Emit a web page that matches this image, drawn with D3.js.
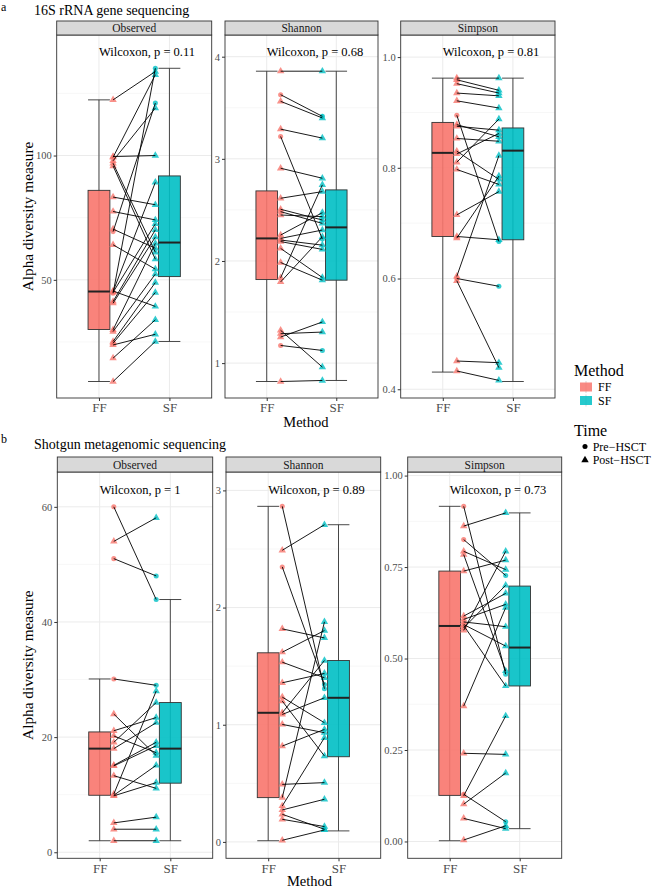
<!DOCTYPE html>
<html><head><meta charset="utf-8">
<script src="https://cdn.jsdelivr.net/npm/d3@7"></script>
<style>
body{margin:0;background:#fff}
svg{display:block}
text{font-family:"Liberation Serif","Times New Roman",serif}
</style>
</head><body>
<svg id="c" width="660" height="888"></svg>
<script>
// ---------------- data ----------------
const methods = ["FF", "SF"];
const metrics = ["Observed", "Shannon", "Simpson"];
const timeLevels = ["Pre\u2212HSCT", "Post\u2212HSCT"];
const rowTitles = ["16S rRNA gene sequencing", "Shotgun metagenomic sequencing"];
const rowTags = ["a", "b"];
const xTitle = "Method";
const yTitle = "Alpha diversity measure";

// 16S rRNA : paired samples (FF value, SF value); Pre = indices of Pre-HSCT samples
const obs16FF = [122.4, 99.6, 99.3, 97.9, 96.9, 95.8, 83.3, 77.5, 70.4, 69.4, 64.1, 45.5, 45.3, 45.0, 44.6, 41.3, 40.6, 29.9, 29.2, 25.2, 24.5, 23.8, 18.5, 9.1];
const obs16SF = [133.8, 100.0, 132.5, 119.1, 61.1, 58.3, 80.2, 74.1, 62.7, 121.1, 54.3, 39.3, 89.2, 72.5, 135.1, 70.1, 67.2, 64.7, 52.3, 48.9, 44.9, 28.1, 33.9, 25.2];
const obs16Pre = [9, 14];
const obs16BoxFF = [9.1, 30.0, 45.3, 86.0, 122.4];
const obs16BoxSF = [25.2, 51.3, 65.0, 91.8, 135.1];

const sha16FF = [3.858, 3.628, 3.563, 3.291, 3.219, 2.908, 2.614, 2.506, 2.483, 2.450, 2.254, 2.221, 2.205, 2.190, 2.123, 1.985, 1.835, 1.795, 1.321, 1.288, 1.255, 1.173, 0.820];
const sha16SF = [3.858, 3.416, 3.400, 3.203, 2.214, 2.810, 2.679, 2.401, 2.368, 2.434, 2.473, 2.303, 2.155, 2.113, 1.838, 1.812, 2.745, 2.237, 0.961, 1.304, 1.403, 1.124, 0.830];
const sha16Pre = [1, 4, 21];
const sha16BoxFF = [0.820, 1.818, 2.221, 2.686, 3.858];
const sha16BoxSF = [0.830, 1.812, 2.329, 2.696, 3.858];

const sim16FF = [0.962, 0.959, 0.952, 0.935, 0.921, 0.895, 0.878, 0.875, 0.853, 0.830, 0.825, 0.810, 0.797, 0.715, 0.676, 0.673, 0.604, 0.600, 0.596, 0.451, 0.433];
const sim16SF = [0.962, 0.940, 0.935, 0.930, 0.908, 0.667, 0.856, 0.868, 0.848, 0.779, 0.862, 0.888, 0.770, 0.757, 0.670, 0.785, 0.822, 0.586, 0.439, 0.448, 0.416];
const sim16Pre = [5, 17];
const sim16BoxFF = [0.431, 0.676, 0.827, 0.882, 0.962];
const sim16BoxSF = [0.414, 0.670, 0.831, 0.872, 0.962];

// Shotgun metagenomic
const obsSgFF = [60.0, 54.0, 51.0, 30.1, 24.0, 21.1, 20.2, 19.1, 18.0, 15.1, 15.0, 13.3, 10.1, 9.9, 9.8, 5.1, 4.0, 2.0];
const obsSgSF = [43.9, 58.1, 48.0, 29.0, 16.8, 23.4, 17.3, 26.0, 22.5, 19.1, 18.5, 11.1, 28.0, 15.1, 12.1, 6.1, 4.0, 2.0];
const obsSgPre = [0, 2, 3];
const obsSgBoxFF = [2.0, 9.9, 18.0, 20.9, 30.1];
const obsSgBoxSF = [2.0, 12.0, 18.0, 26.0, 43.9];

const shaSgFF = [2.864, 2.489, 2.347, 1.818, 1.619, 1.534, 1.358, 1.236, 1.202, 1.102, 1.088, 1.003, 0.818, 0.491, 0.378, 0.307, 0.273, 0.236, 0.193, 0.014];
const shaSgSF = [1.307, 2.707, 1.344, 1.741, 1.804, 1.401, 1.438, 1.017, 0.733, 1.548, 1.230, 0.932, 0.960, 0.506, 1.878, 0.889, 0.364, 0.108, 0.131, 0.102];
const shaSgPre = [0, 2];
const shaSgBoxFF = [0.010, 0.378, 1.102, 1.614, 2.864];
const shaSgBoxSF = [0.094, 0.727, 1.230, 1.548, 2.707];

const simSgFF = [0.916, 0.862, 0.825, 0.793, 0.784, 0.739, 0.616, 0.607, 0.600, 0.593, 0.590, 0.584, 0.577, 0.370, 0.241, 0.129, 0.125, 0.102, 0.063, 0.004];
const simSgSF = [0.457, 0.898, 0.727, 0.743, 0.466, 0.769, 0.678, 0.648, 0.587, 0.534, 0.425, 0.700, 0.793, 0.639, 0.238, 0.054, 0.343, 0.187, 0.035, 0.043];
const simSgPre = [0, 2, 15];
const simSgBoxFF = [0.002, 0.126, 0.589, 0.739, 0.916];
const simSgBoxSF = [0.035, 0.425, 0.530, 0.698, 0.898];

const pValues16 = ["0.11", "0.68", "0.81"];
const pValuesSg = ["1", "0.89", "0.73"];

const ticks16 = [[50, 100], [1, 2, 3, 4], [0.4, 0.6, 0.8, 1.0]];
const tickLabels16 = [["50", "100"], ["1", "2", "3", "4"], ["0.4", "0.6", "0.8", "1.0"]];
const ticksSg = [[0, 20, 40, 60], [0, 1, 2, 3], [0, 0.25, 0.5, 0.75, 1.0]];
const tickLabelsSg = [["0", "20", "40", "60"], ["0", "1", "2", "3"], ["0.00", "0.25", "0.50", "0.75", "1.00"]];

// ---------------- style / layout ----------------
const colors = {FF: "#F8766D", SF: "#00BFC4"};
const svg = d3.select("#c");

const rows = [
  {tag: rowTags[0], title: rowTitles[0], tagY: 11, titleY: 15, stripTop: 21, top: 35, bottom: 398,
   xs: [[56.7, 211.7], [225, 378], [400.7, 555]], xTitleY: 426.5,
   panels: [
     {ff: obs16FF, sf: obs16SF, pre: obs16Pre, bff: obs16BoxFF, bsf: obs16BoxSF, p: pValues16[0], t: ticks16[0], tl: tickLabels16[0]},
     {ff: sha16FF, sf: sha16SF, pre: sha16Pre, bff: sha16BoxFF, bsf: sha16BoxSF, p: pValues16[1], t: ticks16[1], tl: tickLabels16[1]},
     {ff: sim16FF, sf: sim16SF, pre: sim16Pre, bff: sim16BoxFF, bsf: sim16BoxSF, p: pValues16[2], t: ticks16[2], tl: tickLabels16[2]}]},
  {tag: rowTags[1], title: rowTitles[1], tagY: 443, titleY: 449, stripTop: 457, top: 472, bottom: 858.3,
   xs: [[57.3, 212.7], [226, 380.7], [407.7, 561.7]], xTitleY: 886,
   panels: [
     {ff: obsSgFF, sf: obsSgSF, pre: obsSgPre, bff: obsSgBoxFF, bsf: obsSgBoxSF, p: pValuesSg[0], t: ticksSg[0], tl: tickLabelsSg[0]},
     {ff: shaSgFF, sf: shaSgSF, pre: shaSgPre, bff: shaSgBoxFF, bsf: shaSgBoxSF, p: pValuesSg[1], t: ticksSg[1], tl: tickLabelsSg[1]},
     {ff: simSgFF, sf: simSgSF, pre: simSgPre, bff: simSgBoxFF, bsf: simSgBoxSF, p: pValuesSg[2], t: ticksSg[2], tl: tickLabelsSg[2]}]}
];

const triangle = d3.symbol().type(d3.symbolTriangle).size(24);
const circle = d3.symbol().type(d3.symbolCircle).size(20);

rows.forEach(row => {
  svg.append("text").attr("x", 1).attr("y", row.tagY).attr("font-size", 12).attr("fill", "#000").text(row.tag);
  svg.append("text").attr("x", 34).attr("y", row.titleY).attr("font-size", 14).attr("fill", "#000").text(row.title);

  row.panels.forEach((p, i) => {
    const [x0, x1] = row.xs[i];
    const all = p.ff.concat(p.sf, p.bff, p.bsf);
    const lo = d3.min(all), hi = 1.05 * d3.max(all);
    const pad = 0.05 * (hi - lo);
    const y = d3.scaleLinear().domain([lo - pad, hi + pad]).range([row.bottom, row.top]);
    const x = d3.scalePoint().domain(methods).range([x0, x1]).padding(0.6);
    const step = x.step();
    const bw = 0.31 * step;
    const off = {FF: 0.2 * step, SF: -0.2 * step};
    const g = svg.append("g");

    // grid
    const tstep = p.t[1] - p.t[0];
    const minors = p.t.map(t => t - tstep / 2).concat([p.t[p.t.length - 1] + tstep / 2])
      .filter(v => v > y.domain()[0] && v < y.domain()[1]);
    g.selectAll(".mn").data(minors).join("line")
      .attr("x1", x0).attr("x2", x1).attr("y1", d => y(d)).attr("y2", d => y(d))
      .attr("stroke", "#F2F2F2").attr("stroke-width", 0.6);
    g.selectAll(".mj").data(p.t).join("line")
      .attr("x1", x0).attr("x2", x1).attr("y1", d => y(d)).attr("y2", d => y(d))
      .attr("stroke", "#EBEBEB").attr("stroke-width", 1);
    g.selectAll(".mx").data(methods).join("line")
      .attr("x1", d => x(d)).attr("x2", d => x(d)).attr("y1", row.top).attr("y2", row.bottom)
      .attr("stroke", "#EBEBEB").attr("stroke-width", 1);

    // boxes
    const boxes = [{m: "FF", s: p.bff}, {m: "SF", s: p.bsf}];
    boxes.forEach(b => {
      const cx = x(b.m);
      g.append("line").attr("x1", cx).attr("x2", cx).attr("y1", y(b.s[0])).attr("y2", y(b.s[4]))
        .attr("stroke", "#333").attr("stroke-width", 0.9);
      [b.s[0], b.s[4]].forEach(v => g.append("line")
        .attr("x1", cx - bw / 2).attr("x2", cx + bw / 2).attr("y1", y(v)).attr("y2", y(v))
        .attr("stroke", "#333").attr("stroke-width", 0.9));
      g.append("rect").attr("x", cx - bw / 2).attr("width", bw)
        .attr("y", y(b.s[3])).attr("height", y(b.s[1]) - y(b.s[3]))
        .attr("fill", colors[b.m]).attr("fill-opacity", 0.9).attr("stroke", "#333").attr("stroke-width", 0.9);
      g.append("line").attr("x1", cx - bw / 2).attr("x2", cx + bw / 2).attr("y1", y(b.s[2])).attr("y2", y(b.s[2]))
        .attr("stroke", "#222").attr("stroke-width", 2);
    });

    // points
    const pairs = p.ff.map((v, k) => ({ff: v, sf: p.sf[k], pre: p.pre.includes(k)}));
    methods.forEach(m => {
      g.selectAll(".pt" + m).data(pairs).join("path")
        .attr("d", d => d.pre ? circle() : triangle())
        .attr("transform", d => `translate(${x(m) + off[m]},${y(m === "FF" ? d.ff : d.sf)})`)
        .attr("fill", colors[m]).attr("fill-opacity", 0.8);
    });
    // paired lines
    g.selectAll(".ln").data(pairs).join("line")
      .attr("x1", x("FF") + off.FF).attr("x2", x("SF") + off.SF)
      .attr("y1", d => y(d.ff)).attr("y2", d => y(d.sf))
      .attr("stroke", "#000").attr("stroke-width", 0.9);

    // panel border
    g.append("rect").attr("x", x0).attr("y", row.top).attr("width", x1 - x0).attr("height", row.bottom - row.top)
      .attr("fill", "none").attr("stroke", "#333").attr("stroke-width", 0.9);
    // strip
    g.append("rect").attr("x", x0).attr("y", row.stripTop).attr("width", x1 - x0).attr("height", row.top - row.stripTop)
      .attr("fill", "#D9D9D9").attr("stroke", "#333").attr("stroke-width", 0.9);
    g.append("text").attr("x", (x0 + x1) / 2).attr("y", (row.stripTop + row.top) / 2).attr("dy", "0.35em")
      .attr("text-anchor", "middle").attr("font-size", 11.5).attr("fill", "#1A1A1A").text(metrics[i]);

    // axes
    const ya = g.append("g").attr("transform", `translate(${x0},0)`)
      .call(d3.axisLeft(y).tickValues(p.t).tickFormat((d, k) => p.tl[k]).tickSize(3).tickPadding(2));
    ya.select(".domain").remove();
    ya.selectAll("line").attr("stroke", "#333");
    ya.selectAll("text").attr("font-size", 10.5).attr("fill", "#4D4D4D").attr("font-family", "Liberation Serif");
    const xa = g.append("g").attr("transform", `translate(0,${row.bottom})`)
      .call(d3.axisBottom(x).tickSize(3).tickPadding(2));
    xa.select(".domain").remove();
    xa.selectAll("line").attr("stroke", "#333");
    xa.selectAll("text").attr("font-size", 13).attr("fill", "#4D4D4D").attr("font-family", "Liberation Serif");

    // test label
    g.append("text").attr("x", x("FF")).attr("y", y(hi)).attr("dy", "0.35em")
      .attr("font-size", 12.5).attr("fill", "#000").text(`Wilcoxon, p = ${p.p}`);
  });

  const px0 = row.xs[0][0], px1 = row.xs[2][1];
  svg.append("text").attr("x", (px0 + px1) / 2).attr("y", row.xTitleY).attr("text-anchor", "middle")
    .attr("font-size", 14.5).attr("fill", "#000").text(xTitle);
  svg.append("text").attr("transform", `translate(33,${(row.top + row.bottom) / 2}) rotate(-90)`)
    .attr("text-anchor", "middle").attr("font-size", 15.3).attr("fill", "#000").text(yTitle);
});

// legend
const lg = svg.append("g");
lg.append("text").attr("x", 574).attr("y", 376).attr("font-size", 16).text("Method");
methods.forEach((m, k) => {
  const cy = 387 + k * 13.5;
  lg.append("line").attr("x1", 586).attr("x2", 586).attr("y1", cy - 6).attr("y2", cy + 6).attr("stroke", "#bbb").attr("stroke-width", 0.6);
  lg.append("rect").attr("x", 580).attr("y", cy - 4.5).attr("width", 12).attr("height", 9).attr("fill", colors[m]).attr("fill-opacity", 0.85);
  lg.append("text").attr("x", 598).attr("y", cy).attr("dy", "0.35em").attr("font-size", 12).text(m);
});
lg.append("text").attr("x", 574).attr("y", 435.5).attr("font-size", 16).text("Time");
timeLevels.forEach((t, k) => {
  const cy = 446.5 + k * 13.5;
  lg.append("path").attr("d", k === 0 ? circle() : triangle()).attr("transform", `translate(585,${cy})`).attr("fill", "#000");
  lg.append("text").attr("x", 592.7).attr("y", cy).attr("dy", "0.35em").attr("font-size", 12).text(t);
});
</script>
</body></html>
